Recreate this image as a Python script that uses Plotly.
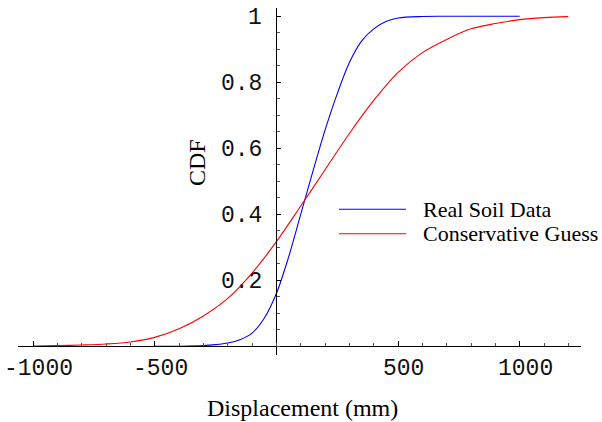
import plotly.graph_objects as go

# Data
blue_x = [-500, -400, -300, -250, -200, -150, -100, -50, 0, 50, 100, 150, 200, 250, 300,
          350, 400, 450, 500, 600, 700, 800, 900, 1000]
blue_y = [0.0, 0.0003, 0.002, 0.005, 0.01, 0.02, 0.04, 0.085, 0.16, 0.27, 0.40, 0.53, 0.655,
          0.765, 0.86, 0.925, 0.962, 0.984, 0.995, 0.9995, 1.0, 1.0, 1.0, 1.0]

red_x = [-1000, -900, -800, -700, -600, -500, -400, -300, -200, -100, 0, 100, 200,
         300, 400, 500, 600, 700, 800, 900, 1000, 1100, 1200]
red_y = [0.0005, 0.002, 0.004, 0.007, 0.013, 0.027, 0.053, 0.092, 0.145, 0.222, 0.317,
         0.425, 0.535, 0.645, 0.745, 0.83, 0.89, 0.93, 0.962, 0.978, 0.99, 0.996, 0.999]

series_names = ["Real Soil Data", "Conservative Guess"]
x_tickvals = [-1000, -500, 500, 1000]
x_ticktext = ["-1000", "-500", "500", "1000"]
y_tickvals = [0.2, 0.4, 0.6, 0.8, 1.0]
y_ticktext = ["0.2", "0.4", "0.6", "0.8", "1"]

W, H = 602, 422
L, R, T, B = 18, 21, 8, 67
pw, ph = W - L - R, H - T - B

xr = [-1062, 1252]
yr = [-0.0264, 1.0252]

fig = go.Figure()
fig.add_trace(go.Scatter(x=blue_x, y=blue_y, mode="lines",
                         line=dict(color="#0000FF", width=1.1, shape="spline", smoothing=0.9),
                         name=series_names[0], showlegend=False))
fig.add_trace(go.Scatter(x=red_x, y=red_y, mode="lines",
                         line=dict(color="#FF0000", width=1.1, shape="spline", smoothing=0.9),
                         name=series_names[1], showlegend=False))

tickfont = dict(family="Liberation Mono, Courier New, monospace", size=23, color="#111111")

xpos = (0 - yr[0]) / (yr[1] - yr[0])
ypos = (0 - xr[0]) / (xr[1] - xr[0])

fig.update_layout(
    width=W, height=H,
    margin=dict(l=L, r=R, t=T, b=B, pad=0),
    paper_bgcolor="white", plot_bgcolor="white",
    showlegend=False,
    xaxis=dict(range=xr, anchor="free", position=xpos, showgrid=False, zeroline=False,
               showline=True, linecolor="black", linewidth=1,
               tickmode="array", tickvals=x_tickvals, showticklabels=False,
               ticks="inside", ticklen=5, tickwidth=1, tickcolor="black",
               minor=dict(ticks="inside", dtick=100, tick0=0, ticklen=3,
                          tickcolor="#555555", tickwidth=1)),
    yaxis=dict(range=yr, anchor="free", position=ypos, showgrid=False, zeroline=False,
               showline=True, linecolor="black", linewidth=1,
               tickmode="array", tickvals=y_tickvals, showticklabels=False,
               ticks="inside", ticklen=4, tickwidth=1, tickcolor="black",
               minor=dict(ticks="inside", dtick=0.05, tick0=0, ticklen=3,
                          tickcolor="#555555", tickwidth=1)),
)

# tick labels
for v, t in zip(x_tickvals, x_ticktext):
    fig.add_annotation(text=t, x=v, y=0, xref="x", yref="y", showarrow=False,
                       xanchor="center", yanchor="middle", xshift=5.5, yshift=-23,
                       font=tickfont)
for v, t in zip(y_tickvals, y_ticktext):
    fig.add_annotation(text=t, x=0, y=v, xref="x", yref="y", showarrow=False,
                       xanchor="right", yanchor="middle", xshift=-12, yshift=-2,
                       font=tickfont)

serif = "Liberation Serif, Times New Roman, serif"


def px(x):
    return (x - L) / pw


def py(y):
    return (H - B - y) / ph


fig.add_annotation(text="CDF", x=px(197), y=py(162), xref="paper", yref="paper",
                   textangle=-90, showarrow=False, font=dict(family=serif, size=24, color="black"),
                   xanchor="center", yanchor="middle")
fig.add_annotation(text="Displacement (mm)", x=px(302), y=py(408), xref="paper", yref="paper",
                   showarrow=False, font=dict(family=serif, size=24, color="black"),
                   xanchor="center", yanchor="middle")

legend_rows = [(209.3, "#0000FF"), (233.7, "#FF0000")]
for (yy, col), name in zip(legend_rows, series_names):
    fig.add_shape(type="line", xref="paper", yref="paper", x0=px(339), x1=px(406),
                  y0=py(yy), y1=py(yy), line=dict(color=col, width=1.1))
    fig.add_annotation(text=name, x=px(421), y=py(yy), xref="paper", yref="paper",
                       showarrow=False, xanchor="left", yanchor="middle",
                       font=dict(family=serif, size=22, color="black"))

fig.write_html("out.html")
